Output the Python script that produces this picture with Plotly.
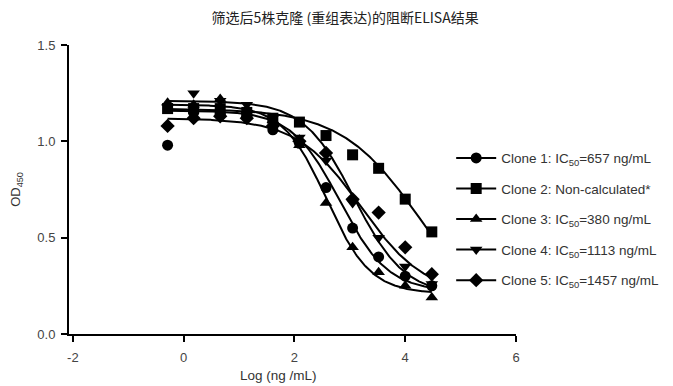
import numpy as np
import plotly.graph_objects as go

# log10 concentrations (ng/mL), 3-fold dilutions
log_conc = [-0.29, 0.18, 0.66, 1.14, 1.61, 2.09, 2.57, 3.05, 3.52, 4.0, 4.48]

clone1 = [0.98, 1.15, 1.14, 1.13, 1.06, 0.99, 0.76, 0.55, 0.40, 0.30, 0.25]
clone2 = [1.17, 1.17, 1.17, 1.15, 1.12, 1.10, 1.03, 0.93, 0.86, 0.70, 0.53]
clone3 = [1.20, 1.19, 1.22, 1.16, 1.11, 0.98, 0.68, 0.45, 0.32, 0.25, 0.19]
clone4 = [1.18, 1.25, 1.21, 1.19, 1.12, 1.02, 0.90, 0.68, 0.50, 0.35, 0.26]
clone5 = [1.08, 1.12, 1.13, 1.12, 1.08, 1.00, 0.94, 0.70, 0.63, 0.45, 0.31]

names = [
    "Clone 1: IC<sub>50</sub>=657 ng/mL",
    "Clone 2: Non-calculated*",
    "Clone 3: IC<sub>50</sub>=380 ng/mL",
    "Clone 4: IC<sub>50</sub>=1113 ng/mL",
    "Clone 5: IC<sub>50</sub>=1457 ng/mL",
]
symbols = ["circle", "square", "triangle-up", "triangle-down", "diamond"]

x_ticks = [-2, 0, 2, 4, 6]
x_ticklabels = ["-2", "0", "2", "4", "6"]
y_ticks = [0, 0.5, 1.0, 1.5]

# fitted 4-parameter logistic curves: top, bottom, logIC50, hill slope
fit_top = [1.16, 1.17, 1.19, 1.21, 1.12]
fit_bottom = [0.22, 0.0, 0.21, 0.20, 0.20]
fit_logic50 = [2.82, 4.30, 2.58, 3.08, 3.20]
fit_hill = [1.0, 0.6, 1.1, 0.95, 0.75]

series = [clone1, clone2, clone3, clone4, clone5]

fig = go.Figure()
xc = np.linspace(log_conc[0], log_conc[-1], 300)
for i, ys in enumerate(series):
    yc = fit_bottom[i] + (fit_top[i] - fit_bottom[i]) / (1 + 10 ** ((xc - fit_logic50[i]) * fit_hill[i]))
    fig.add_trace(go.Scatter(x=xc, y=yc, mode="lines", line=dict(color="black", width=2),
                             showlegend=False, hoverinfo="skip"))
    fig.add_trace(go.Scatter(x=log_conc, y=ys, mode="markers",
                             marker=dict(symbol=symbols[i], size=11, color="black"),
                             showlegend=False))
for i in range(5):
    fig.add_trace(go.Scatter(x=[None], y=[None], mode="lines+markers", name=names[i],
                             legendgroup=str(i),
                             line=dict(color="black", width=2),
                             marker=dict(symbol=symbols[i], size=11, color="black")))

axis_common = dict(showline=True, linecolor="black", linewidth=2, ticks="outside",
                   ticklen=6, tickwidth=2, tickcolor="black", showgrid=False,
                   zeroline=False, automargin=False,
                   tickfont=dict(size=13, color="#444", family="Liberation Sans, Arial, sans-serif"))

fig.update_layout(
    width=665, height=378,
    margin=dict(l=61, r=157, t=37, b=52, autoexpand=False),
    paper_bgcolor="white", plot_bgcolor="white",
    font=dict(family="Liberation Sans, Noto Sans CJK SC, sans-serif", color="#333"),
    title=dict(text="筛选后5株克隆 (重组表达)的阻断ELISA结果", x=0.507, xanchor="center",
               y=0.972, yanchor="middle",
               font=dict(size=14, color="#222", family="Noto Sans CJK SC, Liberation Sans, sans-serif")),
    xaxis=dict(range=[-2.07, 6.0], tickvals=x_ticks, ticktext=x_ticklabels,
               ticklabelstandoff=4, **axis_common),
    yaxis=dict(range=[0, 1.5], tickvals=y_ticks, tickformat=".1f",
               ticklabelstandoff=3,
               title=dict(text="OD<sub>450</sub>", font=dict(size=13, color="#333"), standoff=16),
               **axis_common),
    legend=dict(x=0.855, xanchor="left", y=0.662, yanchor="top", tracegroupgap=10,
                itemwidth=40,
                font=dict(size=13.5, color="#333"), bgcolor="rgba(0,0,0,0)"),
    showlegend=True,
    annotations=[dict(text="Log (ng /mL)", xref="paper", yref="paper", x=0.468, y=-0.143,
                      xanchor="center", yanchor="middle", showarrow=False,
                      font=dict(size=13.5, color="#333"))],
)

fig.write_html("out.html")
